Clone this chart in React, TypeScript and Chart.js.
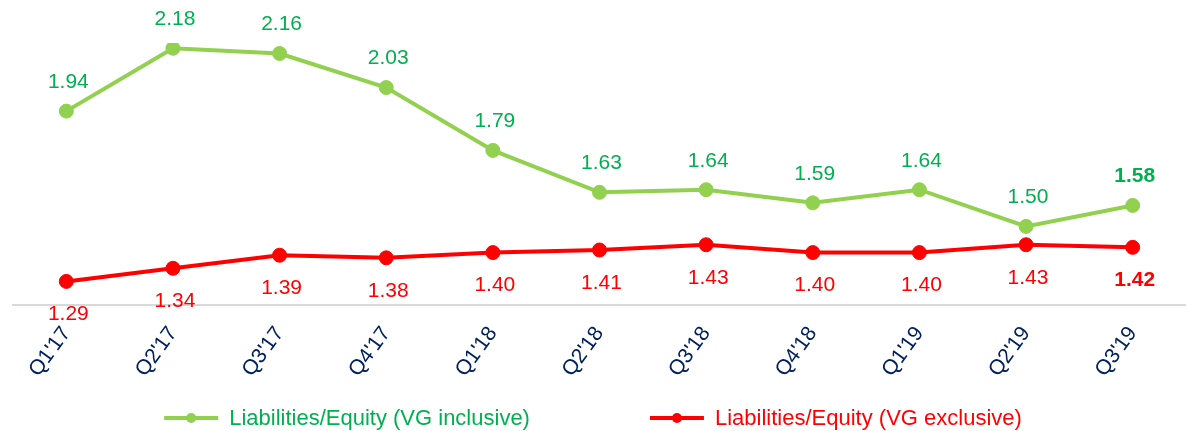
import React, { useEffect, useRef } from 'react';
import { Chart, registerables } from 'chart.js';

Chart.register(...registerables);

const categories = ["Q1'17", "Q2'17", "Q3'17", "Q4'17", "Q1'18", "Q2'18", "Q3'18", "Q4'18", "Q1'19", "Q2'19", "Q3'19"];
const inclusiveValues = [1.94, 2.18, 2.16, 2.03, 1.79, 1.63, 1.64, 1.59, 1.64, 1.5, 1.58];
const exclusiveValues = [1.29, 1.34, 1.39, 1.38, 1.4, 1.41, 1.43, 1.4, 1.4, 1.43, 1.42];
const seriesNames = ['Liabilities/Equity (VG inclusive)', 'Liabilities/Equity (VG exclusive)'];

const GREEN_LINE = '#92D050';
const GREEN_TEXT = '#00B050';
const RED = '#FF0000';
const NAVY = '#002060';
const FONT = 'Arial, "Liberation Sans", sans-serif';
const FONT_SIZE = 21;
const LEGEND_FONT_SIZE = 22;
const VIEW_W = 1186;
const VIEW_H = 431;

const valueLabelPlugin = {
  id: 'valueLabels',
  afterDatasetsDraw(chart: any) {
    const ctx = chart.ctx;
    chart.data.datasets.forEach((ds: any, di: number) => {
      const meta = chart.getDatasetMeta(di);
      meta.data.forEach((pt: any, i: number) => {
        const last = i === meta.data.length - 1;
        ctx.save();
        ctx.font = `${last ? 'bold ' : ''}${FONT_SIZE}px ${FONT}`;
        ctx.fillStyle = di === 0 ? GREEN_TEXT : RED;
        ctx.textAlign = 'center';
        ctx.textBaseline = 'middle';
        ctx.fillText(Number(ds.data[i]).toFixed(2), pt.x + 2, pt.y + (di === 0 ? -29 : 33));
        ctx.restore();
      });
    });
  },
};

const legendPlugin = {
  id: 'customLegend',
  afterDraw(chart: any) {
    const ctx = chart.ctx;
    const markerW = 54;
    const gap = 11;
    const itemGap = 120;
    const y = 418;
    ctx.save();
    ctx.font = `${LEGEND_FONT_SIZE}px ${FONT}`;
    const items = chart.data.datasets.map((ds: any) => ({
      text: ds.label,
      color: ds.borderColor,
      textColor: ds.legendTextColor,
      w: ctx.measureText(ds.label).width,
    }));
    let total = 0;
    items.forEach((it: any, i: number) => {
      total += markerW + gap + it.w + (i > 0 ? itemGap : 0);
    });
    let x = (VIEW_W - total) / 2;
    items.forEach((it: any) => {
      ctx.strokeStyle = it.color;
      ctx.lineWidth = 4;
      ctx.beginPath();
      ctx.moveTo(x, y);
      ctx.lineTo(x + markerW, y);
      ctx.stroke();
      ctx.fillStyle = it.color;
      ctx.beginPath();
      ctx.arc(x + markerW / 2, y, 5, 0, Math.PI * 2);
      ctx.fill();
      ctx.fillStyle = it.textColor;
      ctx.textAlign = 'left';
      ctx.textBaseline = 'middle';
      ctx.fillText(it.text, x + markerW + gap, y + 1);
      x += markerW + gap + it.w + itemGap;
    });
    ctx.restore();
  },
};

export default function App() {
  const canvasRef = useRef<HTMLCanvasElement | null>(null);

  useEffect(() => {
    if (!canvasRef.current) return;
    const chart = new Chart(canvasRef.current, {
      type: 'line',
      data: {
        labels: categories,
        datasets: [
          {
            label: seriesNames[0],
            data: inclusiveValues,
            borderColor: GREEN_LINE,
            backgroundColor: GREEN_LINE,
            borderWidth: 4,
            pointRadius: 7,
            pointBorderWidth: 1,
            pointBackgroundColor: GREEN_LINE,
            pointBorderColor: GREEN_LINE,
            tension: 0,
            legendTextColor: GREEN_TEXT,
          } as any,
          {
            label: seriesNames[1],
            data: exclusiveValues,
            borderColor: RED,
            backgroundColor: RED,
            borderWidth: 4,
            pointRadius: 7,
            pointBorderWidth: 1,
            pointBackgroundColor: RED,
            pointBorderColor: RED,
            tension: 0,
            legendTextColor: RED,
          } as any,
        ],
      },
      options: {
        animation: false,
        responsive: true,
        maintainAspectRatio: false,
        layout: { padding: { left: 13, right: 0, top: 43, bottom: 40 } },
        plugins: {
          legend: { display: false },
          tooltip: { enabled: false },
        },
        scales: {
          x: {
            offset: true,
            grid: { display: false, drawTicks: false },
            border: { display: true, color: '#D9D9D9', width: 2 },
            ticks: {
              color: NAVY,
              font: { family: FONT, size: FONT_SIZE },
              minRotation: 54,
              maxRotation: 54,
              padding: 17,
              autoSkip: false,
            },
            afterFit: (scale: any) => {
              scale.height = 86;
            },
          },
          y: {
            display: false,
            min: 1.2,
            max: 2.2,
          },
        },
      },
      plugins: [valueLabelPlugin, legendPlugin],
    });
    return () => chart.destroy();
  }, []);

  return (
    <div style={{ position: 'absolute', left: 0, top: 0, width: VIEW_W, height: VIEW_H, overflow: 'hidden', background: '#fff' }}>
      <div style={{ position: 'relative', width: VIEW_W + 8, height: VIEW_H }}>
        <canvas ref={canvasRef} />
      </div>
    </div>
  );
}
